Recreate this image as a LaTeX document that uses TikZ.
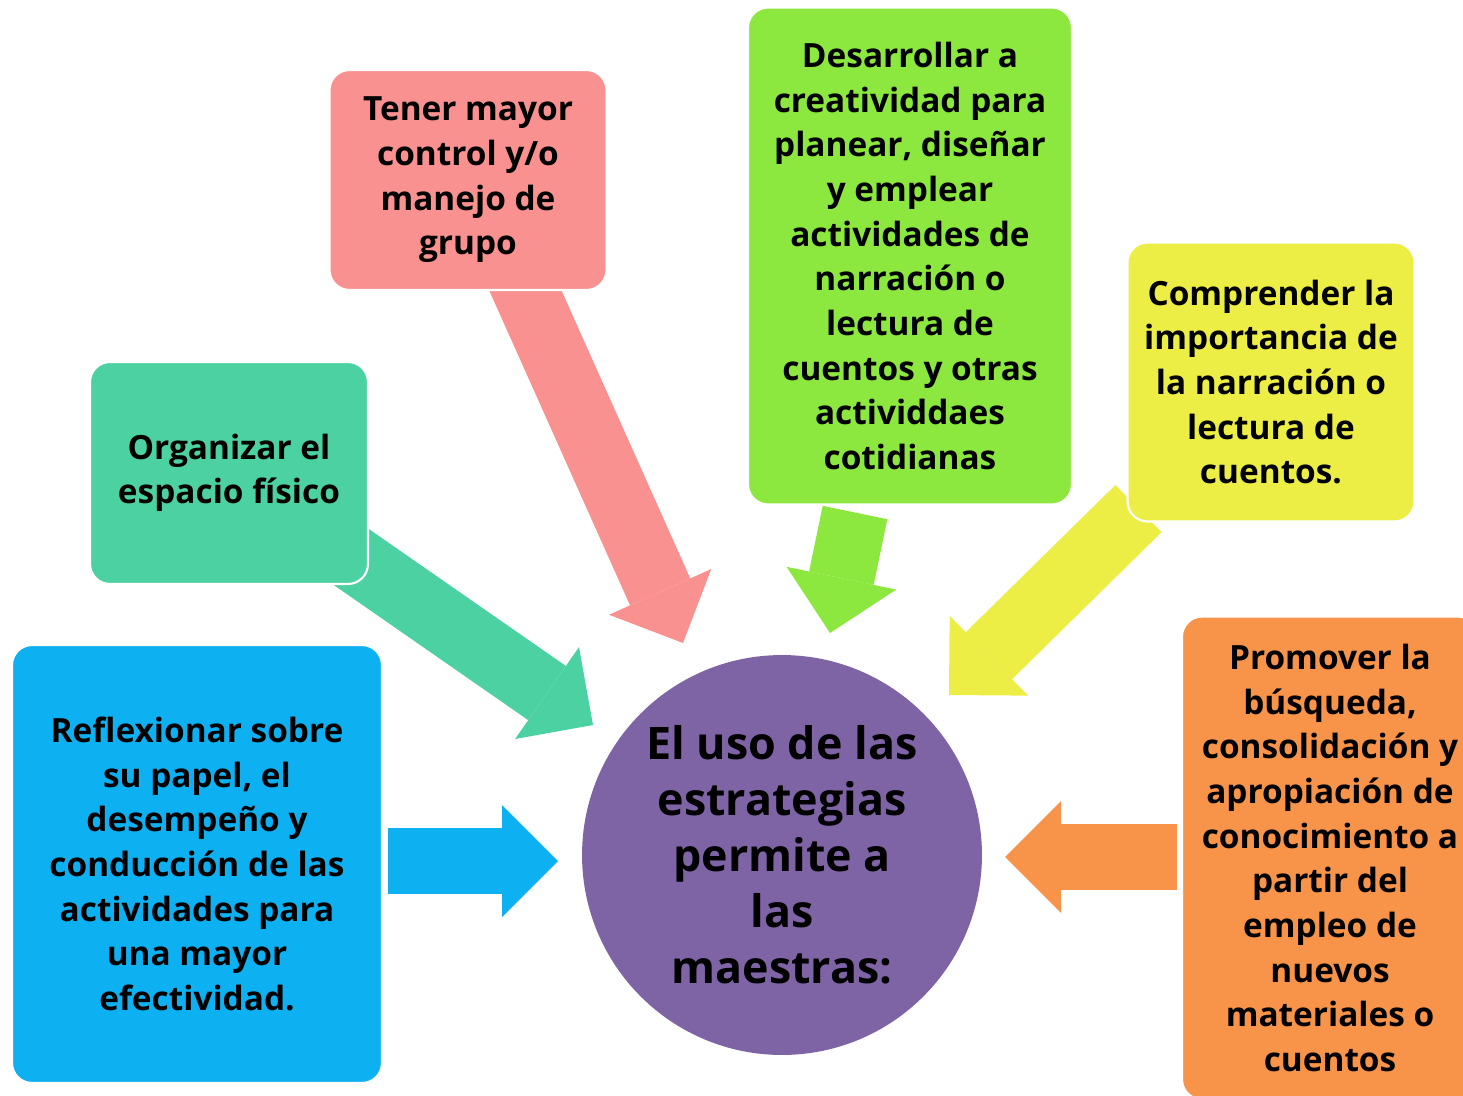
\documentclass[tikz,border=0pt]{standalone}
\usepackage{fontspec}
\setmainfont{Open Sans}
\usepackage{xcolor}
\usetikzlibrary{arrows.meta,calc,backgrounds,positioning}

\definecolor{pinkbox}{HTML}{F8918F}
\definecolor{tealbox}{HTML}{4CD2A2}
\definecolor{bluebox}{HTML}{0DB0F0}
\definecolor{greenbox}{HTML}{8CE83F}
\definecolor{yellowbox}{HTML}{EDEE45}
\definecolor{orangebox}{HTML}{F7944A}
\definecolor{purplecirc}{HTML}{7E63A5}

\begin{document}
\begin{tikzpicture}[
    x=0.02cm, y=-0.02cm,
    box/.style={rectangle, rounded corners=0.4cm, draw=white, line width=1.2pt, align=center,
        font=\fontsize{19}{25.4}\selectfont\bfseries},
    center/.style={circle, fill=purplecirc, minimum size=8cm, align=center,
        font=\fontsize{25.5}{31.9}\selectfont\bfseries},
    blockarrow/.style={line width=1.32cm, -{Triangle[length=1.12cm, width=2.24cm, line width=0pt]}}
]
\useasboundingbox (0,0) rectangle (1463,1095);
\clip (0,0) rectangle (1463,1095);

\node[center] (core) at (782,855) {El uso de las\\estrategias\\permite a\\las\\maestras:};

\node[box, fill=pinkbox, minimum width=5.54cm, minimum height=4.4cm] (pink) at (468,180)
    {Tener mayor\\control y/o\\manejo de\\grupo};
\node[box, fill=tealbox, minimum width=5.56cm, minimum height=4.44cm] (teal) at (229,473)
    {Organizar el\\espacio físico};
\node[box, fill=bluebox, minimum width=7.4cm, minimum height=8.76cm] (blue) at (197,864)
    {Reflexionar sobre\\su papel, el\\desempeño y\\conducción de las\\actividades para\\una mayor\\efectividad.};
\node[box, fill=greenbox, minimum width=6.48cm, minimum height=9.94cm] (green) at (910,256)
    {Desarrollar a\\creatividad para\\planear, diseñar\\y emplear\\actividades de\\narración o\\lectura de\\cuentos y otras\\actividdaes\\cotidianas};
\node[box, fill=yellowbox, minimum width=5.74cm, minimum height=5.58cm] (yellow) at (1271,382)
    {Comprender la\\importancia de\\la narración o\\lectura de\\cuentos.};
\node[box, fill=orangebox, minimum width=5.92cm, minimum height=9.66cm] (orange) at (1330,858)
    {Promover la\\búsqueda,\\consolidación y\\apropiación de\\conocimiento a\\partir del\\empleo de\\nuevos\\materiales o\\cuentos};

% arrow heads stop short of the circle
\coordinate (pinkend)   at (683,643);
\coordinate (tealend)   at (593,725);
\coordinate (greenend)  at (830,633);
\coordinate (yellowend) at (949,695);
\coordinate (blueend)   at (558,861);
\coordinate (orangeend) at (1005,857);

\begin{scope}[on background layer]
\draw[blockarrow, pinkbox]   ($(pink.south)+(50,-17)$)        -- (pinkend);
\draw[blockarrow, tealbox]   ($(teal.south east)+(-22,-31)$)  -- (tealend);
\draw[blockarrow, greenbox]  ($(green.south)+(-55,7)$)        -- (greenend);
\draw[blockarrow, yellowbox] ($(yellow.south west)+(12,-14)$) -- (yellowend);
\draw[blockarrow, bluebox]   ($(blue.east)+(5,-3)$)           -- (blueend);
\draw[blockarrow, orangebox] ($(orange.west)+(-4,-1)$)        -- (orangeend);
\end{scope}
\end{tikzpicture}
\end{document}
